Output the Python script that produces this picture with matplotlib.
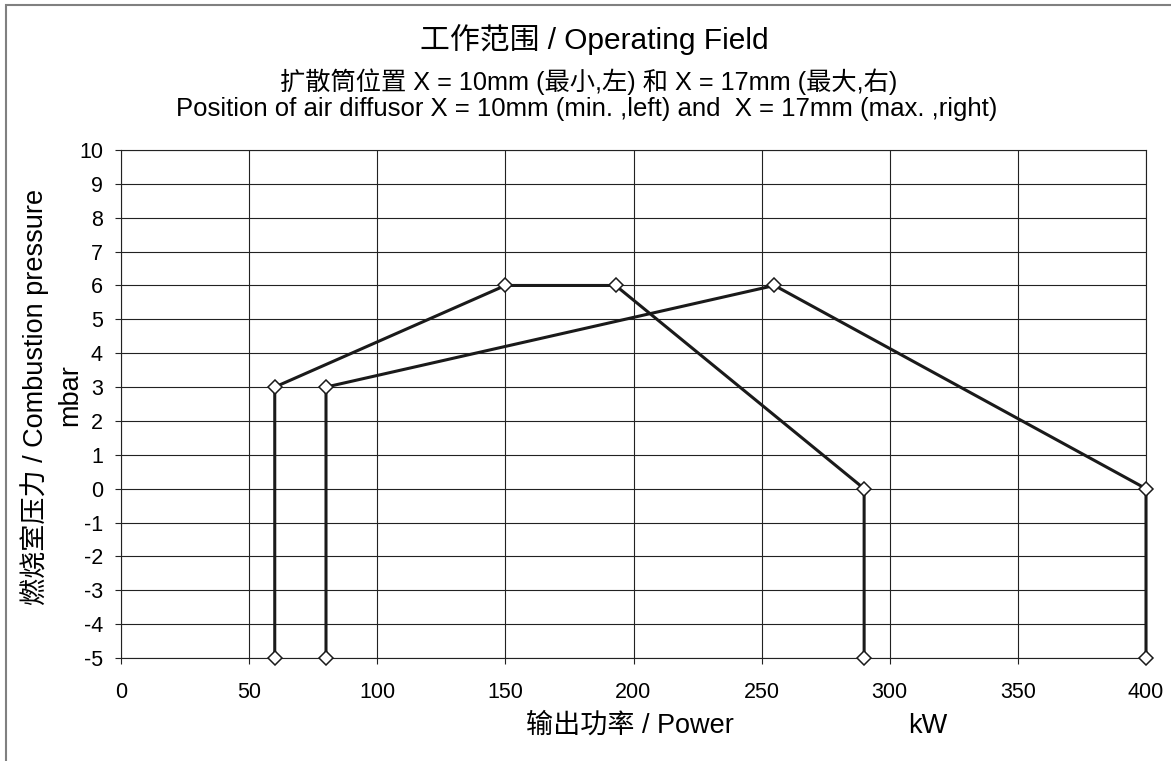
import matplotlib
matplotlib.use("Agg")
import matplotlib.pyplot as plt
from matplotlib.patches import Rectangle

plt.rcParams['font.family'] = ['Liberation Sans', 'Noto Sans CJK SC', 'DejaVu Sans']
plt.rcParams['axes.unicode_minus'] = False

# Data
left_x = [60, 60, 150, 193, 290, 290]
left_y = [-5, 3, 6, 6, 0, -5]
right_x = [80, 80, 255, 400, 400]
right_y = [-5, 3, 6, 0, -5]
x_ticks = [0, 50, 100, 150, 200, 250, 300, 350, 400]
y_ticks = list(range(-5, 11))

title = "工作范围 / Operating Field"
subtitle1 = "扩散筒位置 X = 10mm (最小,左) 和 X = 17mm (最大,右)"
subtitle2 = "Position of air diffusor X = 10mm (min. ,left) and  X = 17mm (max. ,right)"
ylabel1 = "燃烧室压力 / Combustion pressure"
ylabel2 = "mbar"
xlabel = "输出功率 / Power"
xunit = "kW"

W, H = 1171, 761
fig = plt.figure(figsize=(W / 100, H / 100), dpi=100)
ax = fig.add_axes([121 / W, 1 - 658 / H, (1146 - 121) / W, (658 - 150) / H])

# outer frame (top / left visible)
fig.add_artist(Rectangle((6 / W, -0.05), 1.2, 1.05 - 5 / H, transform=fig.transFigure,
                         fill=False, edgecolor='#808080', linewidth=1.5))

for xs, ys in [(left_x, left_y), (right_x, right_y)]:
    ax.plot(xs, ys, color='#1a1a1a', linewidth=2.2, marker='D', markersize=7.5,
            markerfacecolor='white', markeredgecolor='#1a1a1a', markeredgewidth=1.1,
            zorder=3, clip_on=False)

ax.set_xlim(0, 400)
ax.set_ylim(-5, 10)
ax.set_xticks(x_ticks)
ax.set_yticks(y_ticks)
ax.grid(True, color='#222222', linewidth=0.8)
ax.set_axisbelow(True)
for s in ax.spines.values():
    s.set_color('#222222')
    s.set_linewidth(0.8)
ax.tick_params(axis='both', direction='out', length=4.5, width=0.8, color='#222222',
               labelsize=15.5)
ax.tick_params(axis='y', pad=8.5)
ax.tick_params(axis='x', pad=12.5)

fig.text(594 / W, 1 - 40 / H, title, ha='center', va='center', fontsize=21.5)
fig.text(589 / W, 1 - 82 / H, subtitle1, ha='center', va='center', fontsize=18.2)
fig.text(587 / W, 1 - 109 / H, subtitle2, ha='center', va='center', fontsize=18.5)
fig.text(43 / W, 1 - 397 / H, ylabel1, ha='center', va='baseline', rotation=90,
         rotation_mode='anchor', fontsize=19.5)
fig.text(77 / W, 1 - 395 / H, ylabel2, ha='center', va='baseline', rotation=90,
         rotation_mode='anchor', fontsize=19.5)
fig.text(630 / W, 1 - 726 / H, xlabel, ha='center', va='center', fontsize=19.5)
fig.text(928 / W, 1 - 726 / H, xunit, ha='center', va='center', fontsize=19.5)

fig.savefig("out.png", dpi=100)
